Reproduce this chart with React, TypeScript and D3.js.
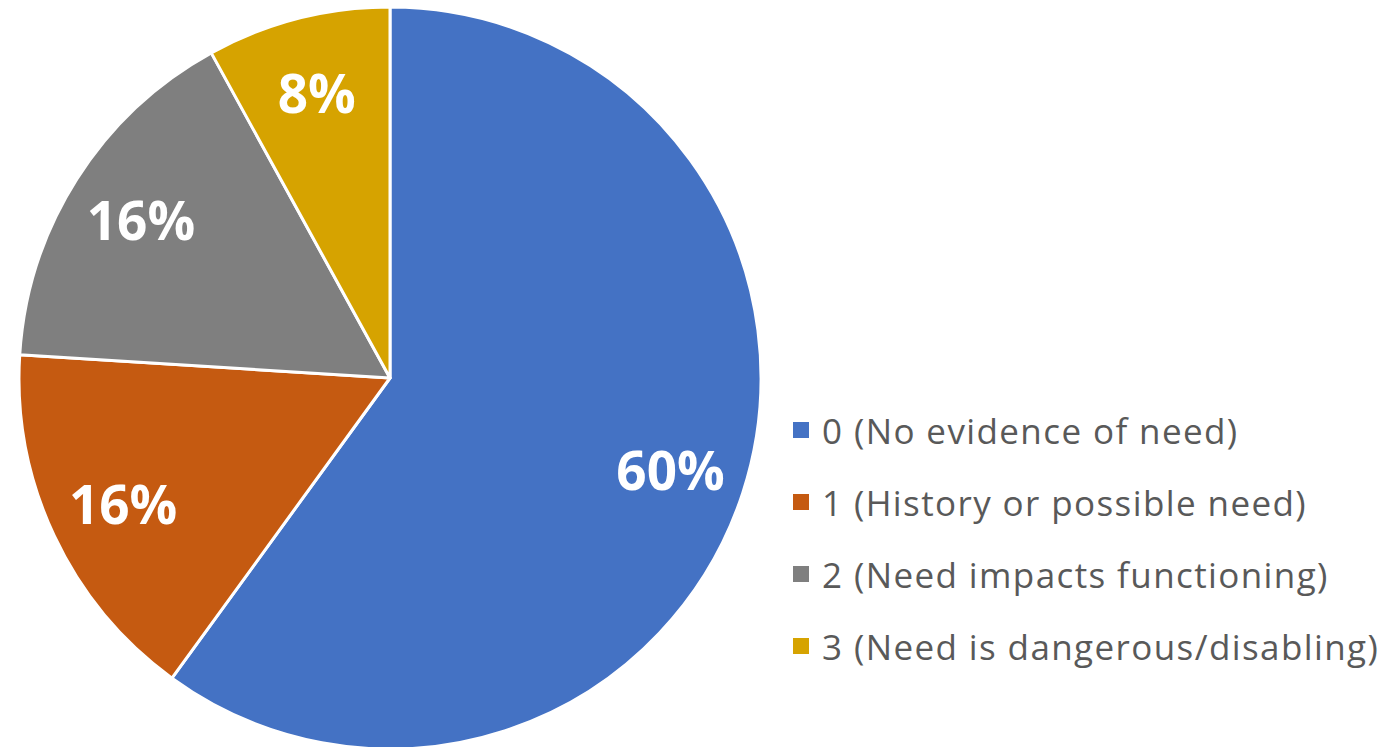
import React from "react";
import * as d3 from "d3";

const categories = [
  "0 (No evidence of need)",
  "1 (History or possible need)",
  "2 (Need impacts functioning)",
  "3 (Need is dangerous/disabling)",
];
const values = [60, 16, 16, 8];
const colors = ["#4472C4", "#C55A11", "#7F7F7F", "#D6A300"];

const W = 1394;
const H = 747;
const cx = 390;
const cy = 378;
const R = 371;

export default function App() {
  const pie = d3.pie<number>().sort(null).value((d) => d);
  const arcs = pie(values);
  const arc = d3.arc<d3.PieArcDatum<number>>().innerRadius(0).outerRadius(R);
  const labelArc = d3
    .arc<d3.PieArcDatum<number>>()
    .innerRadius(R * 0.795)
    .outerRadius(R * 0.795);
  const total = d3.sum(values);
  const fmt = (v: number) => `${Math.round((v / total) * 100)}%`;

  const legendY = d3.scalePoint<string>().domain(categories).range([430, 646]);

  return (
    <svg
      width={W}
      height={H}
      style={{ position: "absolute", left: 0, top: 0, background: "#fff" }}
    >
      <g transform={`translate(${cx},${cy})`}>
        {arcs.map((a, i) => (
          <path
            key={i}
            d={arc(a) || ""}
            fill={colors[i]}
            stroke="#fff"
            strokeWidth={3}
            strokeLinejoin="round"
          />
        ))}
        {arcs.map((a, i) => {
          const [x, y] = labelArc.centroid(a);
          return (
            <text
              key={"l" + i}
              x={x}
              y={y}
              textAnchor="middle"
              dominantBaseline="central"
              fill="#fff"
              fontFamily="'Open Sans', sans-serif"
              fontWeight={700}
              fontSize={53}
            >
              {fmt(a.data)}
            </text>
          );
        })}
      </g>
      <g>
        {categories.map((c, i) => (
          <g key={c} transform={`translate(793,${legendY(c)})`}>
            <rect x={0} y={-8} width={16} height={16} fill={colors[i]} />
            <text
              x={29}
              y={0}
              dominantBaseline="central"
              fill="#595959"
              fontFamily="'Open Sans', sans-serif"
              fontSize={35}
              letterSpacing={1.4}
            >
              {c}
            </text>
          </g>
        ))}
      </g>
    </svg>
  );
}
